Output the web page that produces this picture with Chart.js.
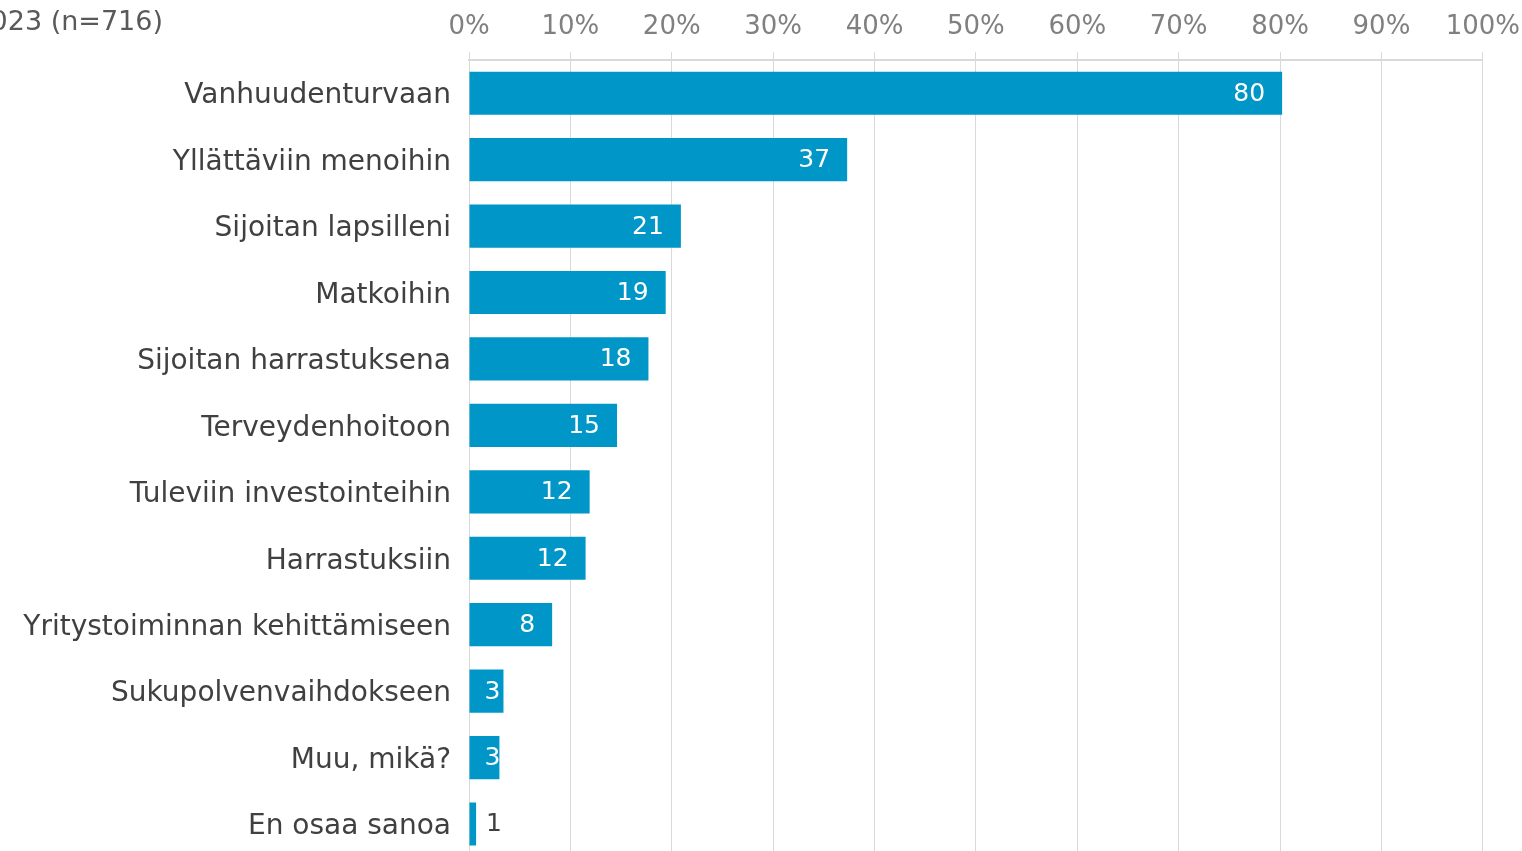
<!DOCTYPE html>
<html>
<head>
<meta charset="utf-8">
<script src="https://cdn.jsdelivr.net/npm/chart.js@4.4.0/dist/chart.umd.min.js"></script>
<style>
  html, body { margin: 0; padding: 0; background: #fff; overflow: hidden; }
  canvas { display: block; }
</style>
</head>
<body>
<canvas id="chart" width="1529" height="884"></canvas>
<script>
// ─── DATA ───
const categories = [
  'Vanhuudenturvaan', 'Yllättäviin menoihin', 'Sijoitan lapsilleni', 'Matkoihin',
  'Sijoitan harrastuksena', 'Terveydenhoitoon', 'Tuleviin investointeihin', 'Harrastuksiin',
  'Yritystoiminnan kehittämiseen', 'Sukupolvenvaihdokseen', 'Muu, mikä?', 'En osaa sanoa'
];
const values = [80.2, 37.3, 20.9, 19.4, 17.7, 14.6, 11.9, 11.5, 8.2, 3.4, 3.0, 0.7];
const valueLabels = ['80', '37', '21', '19', '18', '15', '12', '12', '8', '3', '3', '1'];
const seriesName = '2023 (n=716)';

const FONT = "'DejaVu Sans', Verdana, sans-serif";
const BAR_COLOR = '#0096C8';

// series name, partly off the left edge like the original
const seriesTitle = {
  id: 'seriesTitle',
  afterDraw(chart) {
    const ctx = chart.ctx;
    ctx.save();
    ctx.font = '27px ' + FONT;
    ctx.fillStyle = '#595959';
    ctx.textAlign = 'right';
    ctx.textBaseline = 'middle';
    ctx.fillText(seriesName, 163, 23);
    ctx.restore();
  }
};

// value labels at the end of each bar (inside, white; outside when too small)
const barLabels = {
  id: 'barLabels',
  afterDatasetsDraw(chart) {
    const ctx = chart.ctx;
    const meta = chart.getDatasetMeta(0);
    ctx.save();
    ctx.font = '25px ' + FONT;
    ctx.textBaseline = 'middle';
    meta.data.forEach((bar, i) => {
      const txt = valueLabels[i];
      const w = bar.x - bar.base;
      if (w < 15) {
        ctx.fillStyle = '#404040';
        ctx.textAlign = 'left';
        ctx.fillText(txt, bar.x + 10, bar.y + 1);
      } else if (w < 45) {
        ctx.fillStyle = '#fff';
        ctx.textAlign = 'center';
        ctx.fillText(txt, bar.base + 23, bar.y + 1);
      } else {
        ctx.fillStyle = '#fff';
        ctx.textAlign = 'right';
        ctx.fillText(txt, bar.x - 17, bar.y + 1);
      }
    });
    ctx.restore();
  }
};

new Chart(document.getElementById('chart'), {
  type: 'bar',
  data: {
    labels: categories,
    datasets: [{
      label: seriesName,
      data: values,
      backgroundColor: BAR_COLOR,
      borderWidth: 0,
      categoryPercentage: 1,
      barPercentage: 0.65
    }]
  },
  options: {
    indexAxis: 'y',
    responsive: false,
    animation: false,
    layout: { padding: 0 },
    plugins: {
      legend: { display: false },
      tooltip: { enabled: false }
    },
    scales: {
      x: {
        position: 'top',
        min: 0,
        max: 100,
        afterFit: s => { s.height = 60; },
        ticks: {
          stepSize: 10,
          padding: 9,
          color: '#808080',
          font: { family: FONT, size: 26 },
          callback: v => v + '%'
        },
        grid: {
          color: '#d9d9d9',
          lineWidth: 1,
          drawTicks: true,
          tickLength: 8
        },
        border: { display: true, color: '#d9d9d9', width: 2 }
      },
      y: {
        afterFit: s => { s.width = 469; },
        ticks: {
          padding: 10,
          labelOffset: 3,
          color: '#404040',
          font: { family: FONT, size: 28 }
        },
        grid: { display: false },
        border: { display: false }
      }
    }
  },
  plugins: [seriesTitle, barLabels]
});
</script>
</body>
</html>
